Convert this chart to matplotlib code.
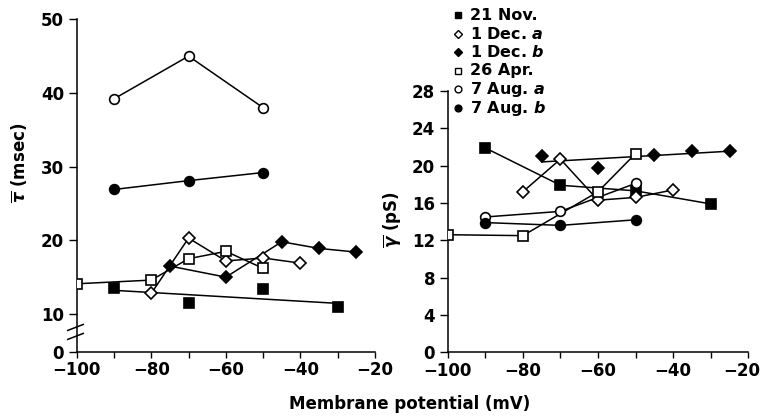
import numpy as np
import matplotlib
matplotlib.use("Agg")
import matplotlib.pyplot as plt
from matplotlib.lines import Line2D
from matplotlib.transforms import ScaledTranslation

plt.rcParams['font.family'] = ['DejaVu Sans']
plt.rcParams['font.weight'] = 'bold'
plt.rcParams['mathtext.fontset'] = 'custom'
plt.rcParams['mathtext.it'] = 'DejaVu Sans:italic:bold'
plt.rcParams['mathtext.rm'] = 'DejaVu Sans:bold'

# ---------------- data ----------------
labels = ['21 Nov.', '1 Dec. $\\mathit{a}$', '1 Dec. $\\mathit{b}$',
          '26 Apr.', '7 Aug. $\\mathit{a}$', '7 Aug. $\\mathit{b}$']

# left panel: mean open time tau (msec)
nov21_tau_x = [-90, -70, -50, -30]
nov21_tau_y = [13.5, 11.5, 13.4, 10.9]
dec1a_tau_x = [-80, -70, -60, -50, -40]
dec1a_tau_y = [12.8, 20.3, 17.2, 17.6, 16.9]
dec1b_tau_x = [-75, -60, -45, -35, -25]
dec1b_tau_y = [16.5, 15.0, 19.8, 18.9, 18.4]
apr26_tau_x = [-100, -80, -70, -60, -50]
apr26_tau_y = [14.1, 14.6, 17.5, 18.5, 16.2]
aug7a_tau_x = [-90, -70, -50]
aug7a_tau_y = [39.2, 45.0, 38.0]
aug7b_tau_x = [-90, -70, -50]
aug7b_tau_y = [26.9, 28.1, 29.2]

# right panel: conductance gamma (pS)
nov21_g_x = [-90, -70, -50, -30]
nov21_g_y = [21.9, 17.9, 17.3, 15.9]
dec1a_g_x = [-80, -70, -60, -50, -40]
dec1a_g_y = [17.2, 20.7, 16.3, 16.6, 17.4]
dec1b_g_x = [-75, -60, -45, -35, -25]
dec1b_g_y = [21.0, 19.8, 21.1, 21.6, 21.6]
apr26_g_x = [-100, -80, -60, -50]
apr26_g_y = [12.6, 12.5, 17.2, 21.3]
aug7a_g_x = [-90, -70, -50]
aug7a_g_y = [14.5, 15.1, 18.1]
aug7b_g_x = [-90, -70, -50]
aug7b_g_y = [13.9, 13.6, 14.2]

x_ticks = [-100, -80, -60, -40, -20]
tau_ticks = [10, 20, 30, 40, 50]
g_ticks = [0, 4, 8, 12, 16, 20, 24, 28]

# marker styles: (marker, facecolor)
styles = [('s', 'black'), ('D', 'white'), ('D', 'black'),
          ('s', 'white'), ('o', 'white'), ('o', 'black')]
msizes = [6.5, 6.0, 6.0, 6.5, 7.0, 7.0]

W, H = 761, 420
fig = plt.figure(figsize=(W / 100, H / 100), dpi=100)

axL = fig.add_axes([76.7 / W, 1 - 351.7 / H, 298.3 / W, 332.4 / H])
axR = fig.add_axes([447.7 / W, 1 - 352.3 / H, 300.6 / W, 261.3 / H])

LW = 1.1


def draw(ax, xs, ys, idx, fit=False):
    mk, fc = styles[idx]
    if fit:
        p = np.polyfit(xs, ys, 1)
        xx = np.array([min(xs), max(xs)])
        ax.plot(xx, np.polyval(p, xx), color='black', lw=LW, zorder=2)
    else:
        ax.plot(xs, ys, color='black', lw=LW, zorder=2)
    ax.plot(xs, ys, linestyle='none', marker=mk, ms=msizes[idx],
            mfc=fc, mec='black', mew=1.2, zorder=3)


left_series = [(nov21_tau_x, nov21_tau_y), (dec1a_tau_x, dec1a_tau_y),
               (dec1b_tau_x, dec1b_tau_y), (apr26_tau_x, apr26_tau_y),
               (aug7a_tau_x, aug7a_tau_y), (aug7b_tau_x, aug7b_tau_y)]
right_series = [(nov21_g_x, nov21_g_y), (dec1a_g_x, dec1a_g_y),
                (dec1b_g_x, dec1b_g_y), (apr26_g_x, apr26_g_y),
                (aug7a_g_x, aug7a_g_y), (aug7b_g_x, aug7b_g_y)]

for i, (xs, ys) in enumerate(left_series):
    draw(axL, xs, ys, i, fit=(i == 0))
for i, (xs, ys) in enumerate(right_series):
    draw(axR, xs, ys, i, fit=(i == 2))

# axes formatting
y0 = 4.88  # position of broken-axis zero
axL.set_ylim(y0, 50)
axL.set_yticks([y0] + tau_ticks)
axL.set_yticklabels(['0'] + [str(t) for t in tau_ticks])
axR.set_ylim(0, 28)
axR.set_yticks(g_ticks)

for ax in (axL, axR):
    ax.set_xlim(-100, -20)
    ax.set_xticks(x_ticks)
    ax.set_xticks(np.arange(-100, -19, 10), minor=True)
    ax.spines['top'].set_visible(False)
    ax.spines['right'].set_visible(False)
    ax.spines['left'].set_linewidth(1.1)
    ax.spines['bottom'].set_linewidth(1.1)
    ax.tick_params(axis='both', which='both', direction='out', width=1.0,
                   labelsize=12, colors='black')
    ax.tick_params(axis='x', which='both', length=4.5, pad=2.5)
    ax.tick_params(axis='y', length=6, pad=3)
    ax.set_facecolor('none')

# keep the right-most tick label inside the figure
fig.canvas.draw()
last = axR.get_xticklabels()[-1]
last.set_transform(last.get_transform() +
                   ScaledTranslation(-7 / 100, 0, fig.dpi_scale_trans))

# axis break marks on left y axis
for yb in (0.046, 0.073):
    axL.plot([-0.03, 0.022], [yb - 0.009, yb + 0.009], transform=axL.transAxes,
             color='black', lw=1.1, clip_on=False, zorder=5)

# labels
fig.text(20 / W, 1 - 163 / H, r'$\overline{\tau}$ (msec)', rotation=90,
         ha='center', va='center', fontsize=12)
fig.text(393 / W, 1 - 220 / H, r'$\overline{\gamma}$ (pS)', rotation=90,
         ha='center', va='center', fontsize=12)
fig.text(410 / W, 1 - 404 / H, 'Membrane potential (mV)', ha='center',
         va='center', fontsize=12)

# legend
for i, lab in enumerate(labels):
    yy = 1 - (15 + 18.6 * i) / H
    mk, fc = styles[i]
    fig.add_artist(Line2D([458 / W], [yy], marker=mk, ms=msizes[i] * 0.7,
                          mfc=fc, mec='black', mew=1.0, linestyle='none',
                          transform=fig.transFigure))
    fig.text(470 / W, yy, lab, ha='left', va='center', fontsize=11.5)

fig.savefig('out.png', dpi=100)
